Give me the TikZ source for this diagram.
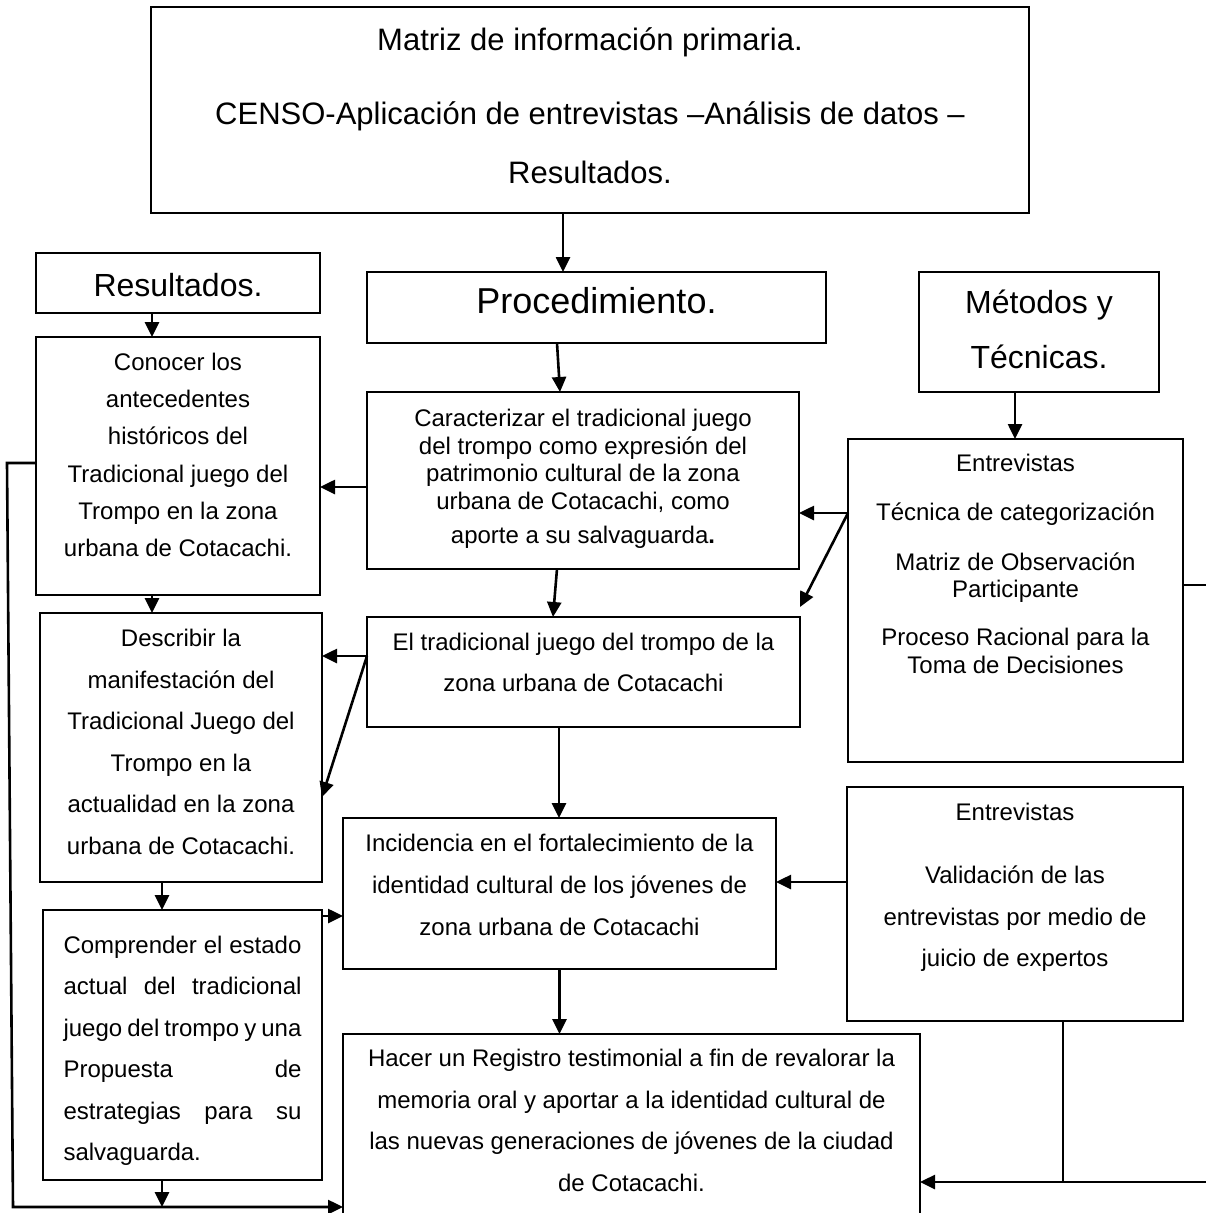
\documentclass[tikz,border=0pt]{standalone}
\usepackage{fontspec}
\setmainfont{Liberation Sans}
\usetikzlibrary{arrows.meta,calc}
\newcommand\bt[6]{\parbox[c][#2pt][t]{#1pt}{\fontsize{#4pt}{#5pt}\selectfont\centering\vspace*{#3pt}\strut #6}}
\tikzset{
  box/.style={draw, line width=2.2pt, inner sep=0pt, outer sep=0pt, anchor=north west},
  arr/.style={-{Triangle[length=15pt,width=14pt]}, line width=2.6pt},
  ln/.style={line width=2.4pt}
}
\begin{document}
\begin{tikzpicture}[x=1pt,y=-1pt]
\useasboundingbox (0,0) rectangle (1206,1213);
\clip (0,0) rectangle (1206,1213);
\node[box] (mtx) at (151,7) {\bt{878}{206}{1.7}{31}{59}{Matriz de información primaria.\\[15pt] CENSO-Aplicación de entrevistas –Análisis de datos –\\ Resultados.}};
\node[box] (res) at (36,253) {\bt{284}{60}{16.4}{32}{38}{Resultados.}};
\node[box] (proc) at (367,272) {\bt{459}{71}{11.6}{36}{42}{Procedimiento.}};
\node[box] (met) at (919,272) {\bt{240}{120}{3}{32}{55}{Métodos y\\Técnicas.}};
\node[box] (con) at (36,337) {\bt{284}{258}{7.5}{24}{37.2}{Conocer los\\antecedentes\\históricos del\\Tradicional juego del\\Trompo en la zona\\urbana de Cotacachi.}};
\node[box] (car) at (367,392) {\bt{432}{177}{15.1}{24}{27.7}{Caracterizar el tradicional juego\\del trompo como expresión del\\patrimonio cultural de la zona\\urbana de Cotacachi, como\\[6.3pt]aporte a su salvaguarda\textbf{.}}};
\node[box] (ent1) at (848,439) {\bt{335}{323}{13.2}{24}{27.6}{Entrevistas\\[21.5pt]Técnica de categorización\\[22pt]Matriz de Observación\\Participante\\[20.5pt]Proceso Racional para la\\Toma de Decisiones}};
\node[box] (des) at (40,613) {\bt{282}{269}{4.4}{24}{41.6}{Describir la\\manifestación del\\Tradicional Juego del\\Trompo en la\\actualidad en la zona\\urbana de Cotacachi.}};
\node[box] (elt) at (367,617) {\bt{433}{110}{4.8}{24}{41}{El tradicional juego del trompo de la\\zona urbana de Cotacachi}};
\node[box] (inc) at (343,818) {\bt{433}{151}{4.1}{24}{42}{Incidencia en el fortalecimiento de la\\identidad cultural de los jóvenes de\\zona urbana de Cotacachi}};
\node[box] (ent2) at (847,787) {\bt{336}{234}{4.5}{24}{41.5}{Entrevistas\\[21.5pt]Validación de las\\entrevistas por medio de\\juicio de expertos}};
\node[box] (com) at (43,910) {\bt{279}{270}{14}{24}{41.5}{\makebox[238pt][s]{Comprender el estado}\\\makebox[238pt][s]{actual del tradicional}\\\makebox[238pt][s]{juego del trompo y una}\\\makebox[238pt][s]{Propuesta de}\\\makebox[238pt][s]{estrategias para su}\\\makebox[238pt][l]{salvaguarda.}}};
\node[box] (hac) at (343,1034) {\bt{577}{200}{3.3}{24}{41.7}{Hacer un Registro testimonial a fin de revalorar la\\memoria oral y aportar a la identidad cultural de\\las nuevas generaciones de jóvenes de la ciudad\\de Cotacachi.}};
% connectors
\draw[arr] ([xshift=-27]mtx.south) -- ([xshift=-27]mtx.south |- proc.north);
\draw[arr] ([xshift=-26]res.south) -- ([xshift=-26]res.south |- con.north);
\draw[arr] ([xshift=-24]met.south) -- ([xshift=-24]met.south |- ent1.north);
\draw[arr] ([xshift=-39.5]proc.south) -- ([xshift=-23]car.north);
\draw[arr] ([xshift=-26]car.south) -- ([xshift=-30.5]elt.north);
\draw[arr] ([xshift=-24.5]elt.south) -- ([xshift=-24.5]elt.south |- inc.north);
\draw[arr] (inc.south) -- (inc.south |- hac.north);
\draw[arr] ([yshift=-6.5]car.west) -- ([yshift=-6.5]car.west -| con.east);
\draw[arr] ([yshift=87.5]ent1.west) -- ([yshift=87.5]ent1.west -| car.east);
\draw[arr] ([yshift=87.5]ent1.west) -- ([yshift=10]elt.north east);
\draw[arr] ([yshift=16]elt.west) -- ([yshift=16]elt.west -| des.east);
\draw[arr] ([yshift=16]elt.west) -- ([yshift=-49.5]des.east);
\draw[arr] ([xshift=-26]con.south) -- ([xshift=-26]con.south |- des.north);
\draw[arr] ([xshift=-19]des.south) -- ([xshift=-19]des.south |- com.north);
\coordinate (lc1) at (7,463);
\coordinate (lc2) at (13,1207);
\draw[arr] ([yshift=3]con.west) -- (lc1) -- (lc2) -- (lc2 -| hac.west);
\draw[arr] ([xshift=-20.5]com.south) -- ([xshift=-20.5]com.south |- lc2);
\draw[arr] ([yshift=129]com.east) -- ([yshift=129]com.east -| inc.west);
\draw[arr] ([yshift=22]ent2.west) -- ([yshift=22]ent2.west -| inc.east);
\coordinate (re1) at (1206,585);
\draw[ln] (re1 -| ent1.east) -- (re1);
\coordinate (re2) at (1206,1182);
\draw[ln] ([xshift=48]ent2.south) -- ([xshift=48]ent2.south |- re2);
\draw[arr] (re2) -- (re2 -| hac.east);
\end{tikzpicture}
\end{document}
